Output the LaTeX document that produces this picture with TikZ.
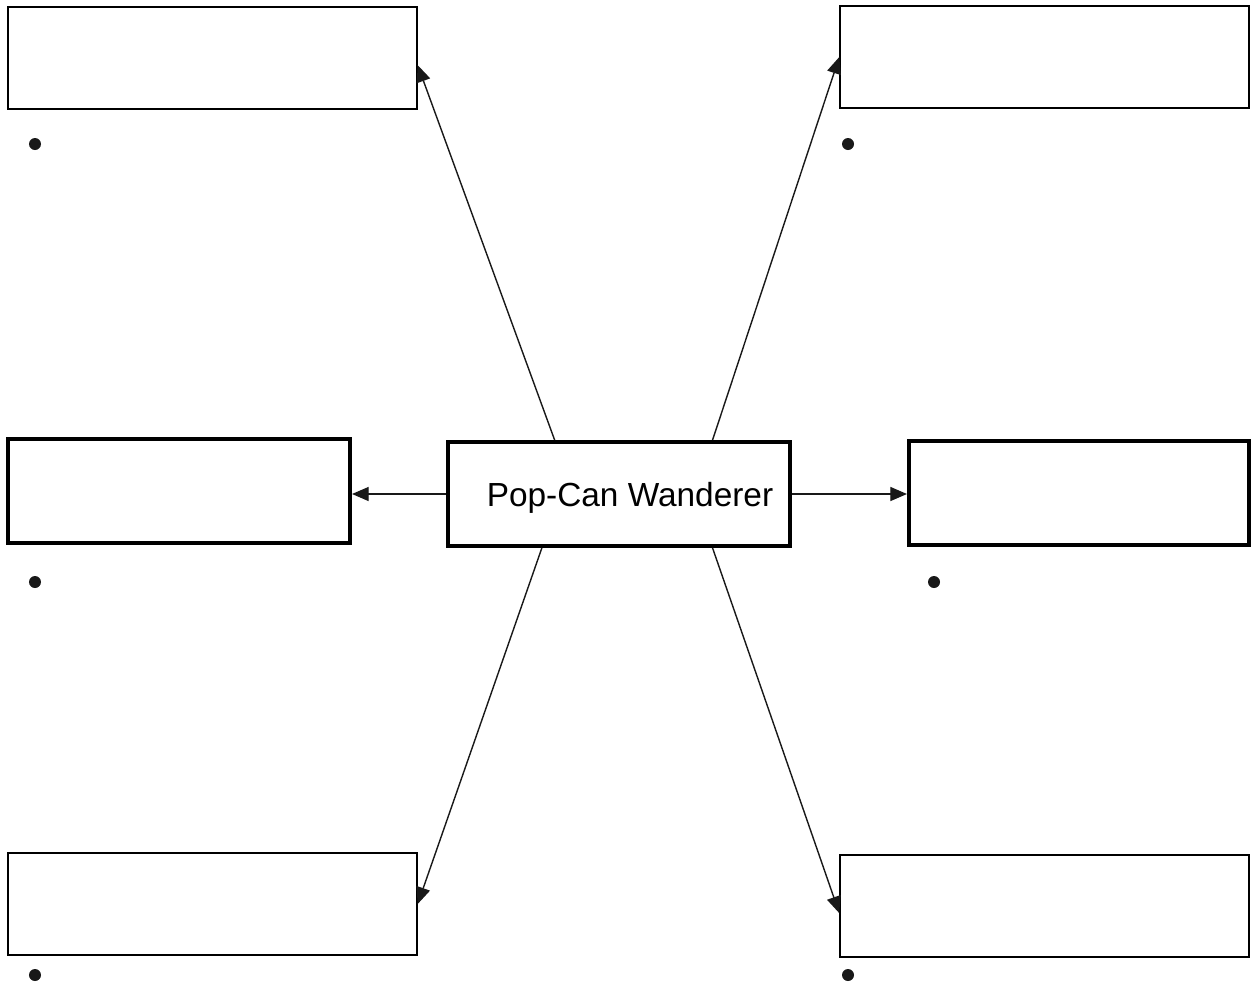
\documentclass[tikz,border=0pt]{standalone}
\usepackage{fontspec}
\setmainfont{Liberation Sans}
\usetikzlibrary{
  arrows.meta,
  shapes
}
\tikzset{
  thinbox/.style={draw, line width=0.8pt, minimum width=8.18cm, minimum height=2.04cm, inner sep=0pt},
  thickbox/.style={draw, line width=2.3pt, minimum width=6.84cm, minimum height=2.08cm, inner sep=0pt},
  dot/.style={circle, fill=black!90, minimum size=0.24cm, inner sep=0pt},
  arr/.style={-{Triangle[length=9.5pt,width=8pt]}, line width=0.8pt, black!90}
}

\begin{document}
\begin{tikzpicture}
  \useasboundingbox (0,0) rectangle (25.02,-19.68);
  \def\Xl{4.25};
  \def\Xr{20.89};
         \node[thinbox] (tl) at (\Xl, -1.16) {};
         \node[thinbox] (tr) at (\Xr, -1.14) {};
         \node[thinbox] (bl) at (\Xl, -18.08) {};
         \node[thinbox] (br) at (\Xr, -18.12) {};

         \node[thickbox] (ml) at (3.58, -9.82) {};
         \node[thickbox, font=\fontsize{19}{22}\selectfont] (wand) at (12.38, -9.88) {\hspace{0.44cm}\raisebox{-0.08cm}[\height][\depth]{Pop-Can Wanderer}};
         \node[thickbox, minimum width=6.80cm] (mr) at (21.58, -9.86) {};

        \node[dot] (dtl) at (0.70, -2.88) {};
        \node[dot] (dtr) at (16.96, -2.88) {};
        \node[dot] (dml) at (0.70, -11.64) {};
        \node[dot] (dmr) at (18.68, -11.64) {};
        \node[dot] (dbl) at (0.70, -19.50) {};
        \node[dot] (dbr) at (16.96, -19.50) {};

	\draw[arr] (wand.140) -- (tl.-2.5);
	\draw[arr] (wand.30) -- (tr.west);
	\draw[arr] (wand.215) -- (bl.east);
	\draw[arr] (wand.330) -- (br.182.5);

	\draw[arr] (wand.west) -- (wand.west -| ml.east);
	\draw[arr] (wand.east) -- (wand.east -| mr.west);
\end{tikzpicture}
\end{document}
